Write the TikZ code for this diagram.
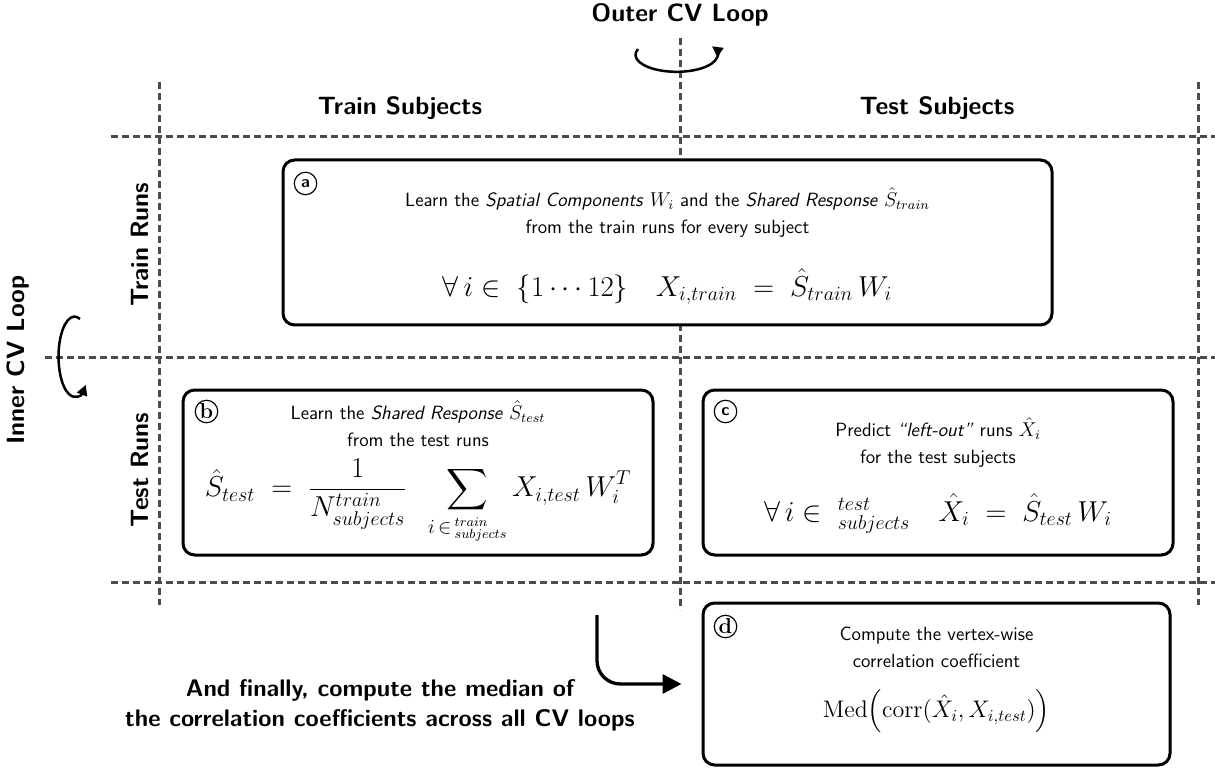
\documentclass[tikz,border=0pt]{standalone}
\usepackage{amsmath}
\usetikzlibrary{arrows.meta, positioning, calc, fit}
\tikzset{%
  >={Triangle[width=4mm,length=4mm]},
  % Specifications for style of nodes:
  cell/.style = {draw, fill=white, line width=1.8pt, rounded corners=7pt, inner sep=0pt},
  blurb/.style = {align=center, font=\sffamily\fontsize{11.5}{16}\selectfont},
  formula/.style = {font=\fontsize{16.5}{19}\selectfont},
  tag/.style = {circle, draw, line width=0.7pt, inner sep=0pt, minimum size=13.5pt,
                font=\bfseries\fontsize{13}{13}\selectfont},
  heading/.style = {font=\sffamily\bfseries\fontsize{15}{18}\selectfont, align=center},
  cut/.style = {draw, black!70, line width=1.8pt, dash pattern=on 4.2pt off 2.4pt},
  loop/.style = {->, line width=1.5pt, >={Triangle[width=2.2mm,length=2.2mm]}},
  final/.style = {->, line width=2pt, rounded corners=14pt, shorten >=12pt},
}

\begin{document}
\begin{tikzpicture}[x=0.6pt, y=-0.6pt]
  \useasboundingbox (0,0) rectangle (1215,772);
  % dashed grid of the train/test split
  \draw [cut] (159,82) -- (159,605);
  \draw [cut] (680,38) -- (680,610);
  \draw [cut] (1198,82) -- (1198,605);
  \draw [cut] (111,137) -- (1215,137);
  \draw [cut] (45,358) -- (1215,358);
  \draw [cut] (111,582) -- (1215,582);

  % Headers of rows and columns
  \node (outer) [heading] at (680,15) {Outer CV Loop};
  \node (trainsub) [heading] at (400,108) {Train Subjects};
  \node (testsub) [heading] at (937,108) {Test Subjects};
  \node (trainrun) [heading, rotate=90] at (140,245) {Train Runs};
  \node (testrun) [heading, rotate=90] at (140,470) {Test Runs};
  \node (inner) [heading, rotate=90] at (18,360) {Inner CV Loop};

  % loop arrows
  \coordinate (outerturn) at (638,49);
  \draw [loop] (outerturn) arc[start angle=200, end angle=-30, x radius=41, y radius=17];
  \coordinate (innerturn) at (80,319);
  \draw [loop] (innerturn) arc[start angle=-70, end angle=-315, x radius=16, y radius=40];

  % The four steps
  \node (a) [cell, fit={(283,160) (1052,325)}] {};
  \node (b) [cell, fit={(183,390) (653,555)}] {};
  \node (c) [cell, fit={(703,390) (1173,555)}] {};
  \node (d) [cell, fit={(703,603) (1170,765)}] {};

  \node (taga) [tag, font=\sffamily\bfseries] at ($(a.north west)+(24,25)$) {a};
  \node (tagb) [tag] at ($(b.north west)+(25,23)$) {b};
  \node (tagc) [tag, font=\sffamily\bfseries] at ($(c.north west)+(24,23)$) {c};
  \node (tagd) [tag] at ($(d.north west)+(24,25)$) {d};

  \node (atext) [blurb] at ($(a.north)+(0,54)$) {Learn the \textit{Spatial Components} $W_i$ and the \textit{Shared Response} $\hat{S}_{train}$\\ from the train runs for every subject};
  \node (amath) [formula] at ($(a.south)+(0,-40)$) {$\forall\, i \in\ \{1\cdots 12\}\quad X_{i,train} \;=\; \hat{S}_{train}\, W_i$};

  \node (btext) [blurb] at ($(b.north)+(0,35)$) {Learn the \textit{Shared Response} $\hat{S}_{test}$\\ from the test runs};
  \node (bmath) [formula, font=\fontsize{17}{20}\selectfont] at ($(b.south)+(0,-55)$) {$\displaystyle \hat{S}_{test} \;=\; \frac{1}{N^{train}_{subjects}}\;\; \sum_{i\,\in\,{}^{train}_{subjects}} X_{i,test}\, W_i^T$};

  \node (ctext) [blurb] at ($(c.north)+(0,54)$) {Predict \textit{``left-out''} runs $\hat{X}_i$\\ for the test subjects};
  \node (cmath) [formula, font=\fontsize{17}{20}\selectfont] at ($(c.south)+(0,-43)$) {$\forall\, i\in\; {}^{test}_{subjects}\quad \hat{X}_i \;=\; \hat{S}_{test}\, W_i$};

  \node (dtext) [blurb] at ($(d.north)+(0,46)$) {Compute the vertex-wise\\ correlation coefficient};
  \node (dmath) [formula, font=\fontsize{14}{17}\selectfont] at ($(d.south)+(0,-55)$) {$\mathrm{Med}\Big(\mathrm{corr}(\hat{X}_i, X_{i,test})\Big)$};

  % final step
  \coordinate (wrap) at (597,615);
  \draw [final] (wrap) |- (d.west);
  \node (finally) [heading, font=\sffamily\bfseries\fontsize{14.4}{18}\selectfont] at (380,705) {And finally, compute the median of\\ the correlation coefficients across all CV loops};
\end{tikzpicture}
\end{document}
